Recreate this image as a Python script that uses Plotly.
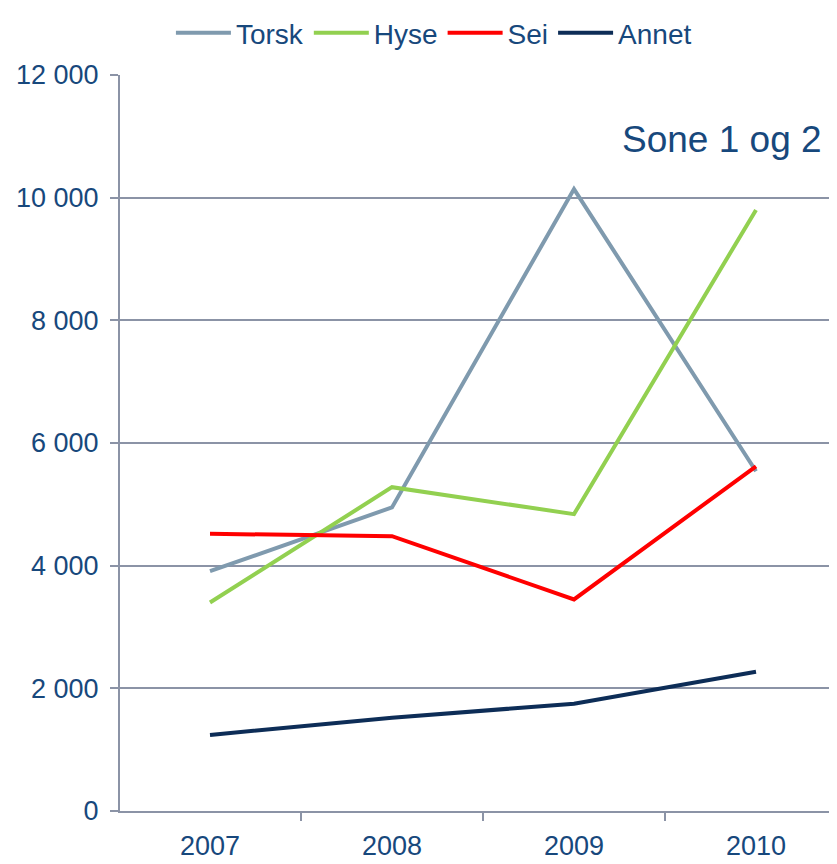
import plotly.graph_objects as go

years = ["2007", "2008", "2009", "2010"]
torsk = [3910, 4950, 10140, 5540]
hyse = [3400, 5280, 4840, 9800]
sei = [4520, 4480, 3450, 5620]
annet = [1240, 1520, 1750, 2270]

y_ticks = [0, 2000, 4000, 6000, 8000, 10000, 12000]

TEXT = "#17487C"
GRID = "#8B93A6"

fig = go.Figure()
for name, vals, color in [
    ("Torsk", torsk, "#7F9AAE"),
    ("Hyse", hyse, "#92D050"),
    ("Sei", sei, "#FF0000"),
    ("Annet", annet, "#0D2D57"),
]:
    fig.add_trace(go.Scatter(x=years, y=vals, name=name, mode="lines",
                             line=dict(color=color, width=4)))

fig.add_annotation(text="Sone 1 og 2", xref="paper", yref="paper",
                   x=0.83, y=0.912, xanchor="center", yanchor="middle",
                   showarrow=False, font=dict(size=37, color=TEXT))

fig.update_layout(
    width=837, height=864,
    margin=dict(l=112, r=0, t=67, b=61),
    paper_bgcolor="white", plot_bgcolor="white",
    font=dict(family="Liberation Sans, Arial, sans-serif", size=27, color=TEXT),
    separators=", ",
    legend=dict(orientation="h", x=0.433, xanchor="center",
                yref="container", y=1, yanchor="top",
                font=dict(size=28, color=TEXT), itemwidth=55),
    showlegend=True,
)
fig.update_xaxes(type="category", range=[-0.4945, 3.489], showgrid=False,
                 showline=True, linecolor=GRID, linewidth=2,
                 ticks="outside", tickson="boundaries", ticklen=8,
                 tickcolor=GRID, tickwidth=2, ticklabelstandoff=10)
fig.update_yaxes(range=[0, 12000], tickvals=y_ticks, tickformat=",d",
                 showgrid=True, gridcolor=GRID, gridwidth=2,
                 showline=True, linecolor=GRID, linewidth=2,
                 ticks="outside", ticklen=8, tickcolor=GRID, tickwidth=2,
                 ticklabelstandoff=6, zeroline=False)

fig.write_html("out.html")
